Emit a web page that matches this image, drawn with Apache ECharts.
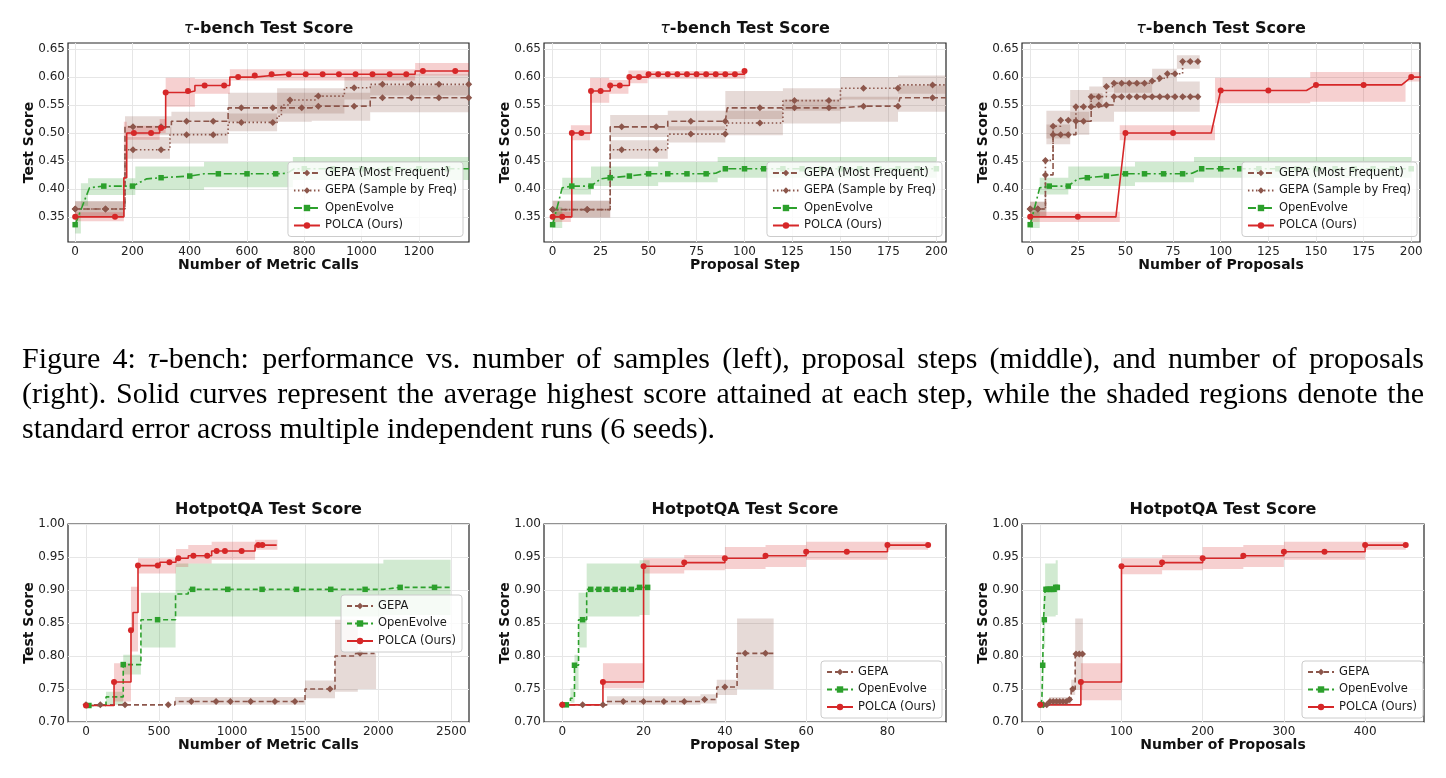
<!DOCTYPE html>
<html>
<head>
<meta charset="utf-8">
<title>tau-bench / HotpotQA test score</title>
<script src="https://cdn.jsdelivr.net/npm/echarts@6/dist/echarts.min.js"></script>
<style>
  html, body { margin: 0; padding: 0; background: #fff; }
  #chart { width: 1446px; height: 778px; }
</style>
</head>
<body>
<div id="chart"></div>
<script>
// ---------- tick labels ----------
const yTicksTau = [0.35, 0.40, 0.45, 0.50, 0.55, 0.60, 0.65];
const yTicksHotpot = [0.70, 0.75, 0.80, 0.85, 0.90, 0.95, 1.00];
const xTicksCalls = [0, 200, 400, 600, 800, 1000, 1200];
const xTicksSteps = [0, 25, 50, 75, 100, 125, 150, 175, 200];
const xTicksHqCalls = [0, 500, 1000, 1500, 2000, 2500];
const xTicksHqSteps = [0, 20, 40, 60, 80];
const xTicksHqProps = [0, 100, 200, 300, 400];

// ---------- tau-bench, number of metric calls ----------
const tbCallsMF = [[0,.364],[106,.364],[174,.511],[202,.511],[300,.511],[336,.521],[389,.521],[482,.521],[534,.545],[580,.545],[690,.545],[791,.545],[826,.548],[849,.548],[974,.548],[1030,.563],[1073,.563],[1174,.563],[1270,.563],[1374,.563]];
const tbCallsMFMarks = [0,106,202,300,389,482,580,690,791,849,974,1073,1174,1270,1374];
const tbCallsSF = [[0,.364],[106,.364],[174,.47],[202,.47],[300,.47],[331,.497],[389,.497],[482,.497],[534,.519],[580,.519],[690,.519],[705,.53],[720,.55],[750,.559],[838,.566],[849,.566],[940,.581],[974,.581],[1030,.587],[1073,.587],[1174,.587],[1270,.587],[1374,.587]];
const tbCallsSFMarks = [0,106,202,300,389,482,580,690,750,849,974,1073,1174,1270,1374];
const tbCallsOE = [[0,.336],[50,.402],[100,.405],[200,.405],[250,.418],[300,.42],[400,.423],[450,.427],[500,.427],[600,.427],[700,.427],[740,.428],[765,.436],[800,.436],[900,.436],[1000,.436],[1100,.436],[1200,.436],[1300,.436],[1375,.436]];
const tbCallsOEMarks = [0,100,200,300,400,500,600,700,800,900,1000,1100,1200,1300];
const tbCallsPOLCA = [[0,.35],[139,.35],[170,.42],[180,.50],[205,.50],[265,.50],[295,.509],[300,.509],[316,.5725],[394,.575],[418,.585],[452,.585],[520,.585],[540,.60],[569,.60],[627,.603],[686,.605],[746,.605],[805,.605],[864,.605],[921,.605],[979,.605],[1038,.605],[1098,.605],[1156,.605],[1187,.611],[1214,.611],[1327,.611],[1375,.611]];
const tbCallsPOLCAMarks = [0,139,205,265,300,316,394,452,520,569,627,686,746,805,864,921,979,1038,1098,1156,1214,1327];
// bands: [x, low, high], each row holds until the next x
const tbCallsMFBand = [[0,.35,.378],[174,.496,.53],[336,.511,.538],[534,.52,.572],[826,.522,.572],[1030,.537,.585],[1375,.537,.585]];
const tbCallsSFBand = [[0,.35,.378],[174,.454,.493],[331,.481,.511],[534,.503,.535],[705,.535,.58],[940,.56,.60],[1030,.567,.605],[1375,.567,.605]];
const tbCallsOEBand = [[0,.32,.355],[20,.37,.41],[45,.389,.419],[210,.398,.44],[450,.403,.448],[760,.416,.457],[1375,.416,.457]];
const tbCallsPOLCABand = [[0,.342,.358],[170,.42,.52],[180,.488,.513],[295,.50,.525],[316,.547,.599],[418,.57,.597],[540,.594,.614],[1187,.603,.625],[1375,.603,.625]];

// ---------- tau-bench, proposal step ----------
const tbStepMF = [[0,.363],[18,.363],[30,.511],[36,.511],[54,.511],[60,.521],[72,.521],[90,.521],[91,.545],[108,.545],[126,.545],[144,.545],[150,.548],[162,.548],[180,.548],[181,.563],[198,.563],[205,.563]];
const tbStepSF = [[0,.363],[18,.363],[30,.47],[36,.47],[54,.47],[60,.498],[72,.498],[90,.498],[91,.518],[108,.518],[120,.558],[126,.558],[144,.558],[150,.58],[162,.58],[180,.58],[181,.586],[198,.586],[205,.586]];
const tbStepGEPAMarks = [0,18,36,54,72,90,108,126,144,162,180,198];
const tbStepOE = [[0,.336],[5,.402],[10,.405],[20,.405],[25,.418],[30,.42],[40,.423],[50,.427],[60,.427],[70,.427],[80,.427],[85,.428],[90,.436],[100,.436],[110,.436],[120,.436],[130,.436],[140,.436],[150,.436],[160,.436],[170,.436],[180,.436],[190,.436],[200,.436]];
const tbStepOEMarks = [0,10,20,30,40,50,60,70,80,90,100,110,120,130,140,150,160,170,180,190,200];
const tbStepPOLCA = [[0,.35],[5,.35],[10,.50],[15,.50],[20,.575],[25,.575],[30,.585],[35,.585],[40,.60],[45,.60],[50,.605],[55,.605],[60,.605],[65,.605],[70,.605],[75,.605],[80,.605],[85,.605],[90,.605],[95,.605],[100,.611]];
const tbStepPOLCAMarks = [0,5,10,15,20,25,30,35,40,45,50,55,60,65,70,75,80,85,90,95,100];
const tbStepMFBand = [[0,.349,.379],[30,.493,.532],[60,.505,.54],[90,.525,.575],[120,.517,.56],[150,.52,.565],[180,.538,.585],[205,.538,.585]];
const tbStepSFBand = [[0,.349,.379],[30,.454,.487],[60,.483,.512],[90,.496,.54],[120,.54,.58],[150,.56,.60],[180,.57,.603],[205,.57,.603]];
const tbStepOEBand = [[0,.33,.367],[5,.39,.42],[20,.405,.44],[55,.412,.448],[86,.42,.457],[200,.42,.457]];
const tbStepPOLCABand = [[0,.341,.359],[9.5,.487,.514],[19.5,.554,.599],[29.5,.57,.595],[39.5,.589,.612],[49.5,.597,.611],[100.5,.597,.611]];

// ---------- tau-bench, number of proposals ----------
const tbPropMF = [[0,.364],[4,.364],[8,.425],[12,.497],[16,.497],[20,.497],[24,.521],[28,.521],[32,.547],[36,.55],[40,.55],[44,.565],[48,.565],[52,.565],[56,.565],[60,.565],[64,.565],[68,.565],[72,.565],[76,.565],[80,.565],[84,.565],[88,.565]];
const tbPropSF = [[0,.364],[4,.364],[8,.451],[12,.512],[16,.523],[20,.523],[24,.547],[28,.547],[32,.565],[36,.565],[40,.583],[44,.589],[48,.589],[52,.589],[56,.589],[60,.589],[64,.593],[68,.598],[72,.606],[76,.606],[80,.628],[84,.628],[88,.628]];
const tbPropGEPAMarks = [0,4,8,12,16,20,24,28,32,36,40,44,48,52,56,60,64,68,72,76,80,84,88];
const tbPropPOLCA = [[0,.35],[25,.35],[45,.35],[50,.50],[75,.50],[95,.50],[100,.576],[125,.576],[145,.576],[150,.586],[175,.586],[195,.586],[200,.60],[205,.60]];
const tbPropPOLCAMarks = [0,25,50,75,100,125,150,175,200];
const tbPropMFBand = [[0,.35,.377],[8.5,.48,.515],[21,.497,.538],[31,.52,.571],[44,.538,.592],[89,.538,.592]];
const tbPropSFBand = [[0,.35,.377],[8.5,.49,.54],[21,.52,.577],[31,.545,.583],[38,.572,.60],[64,.592,.615],[77,.615,.639],[89,.615,.639]];
const tbPropPOLCABand = [[0,.341,.359],[47,.487,.514],[97,.553,.599],[147,.556,.609],[197,.592,.609],[205,.592,.609]];

// ---------- HotpotQA, number of metric calls ----------
const hqCallsGEPA = [[0,.726],[98,.726],[267,.726],[563,.726],[609,.731],[721,.731],[890,.731],[988,.731],[1127,.731],[1293,.731],[1430,.731],[1499,.75],[1670,.75],[1704,.80],[1830,.80],[1845,.804],[1875,.804],[1975,.804]];
const hqCallsGEPAMarks = [0,98,267,563,721,890,988,1127,1293,1430,1670,1875];
const hqCallsOE = [[20,.725],[137,.738],[255,.787],[376,.855],[490,.855],[613,.894],[700,.901],[730,.901],[970,.901],[1205,.901],[1440,.901],[1675,.901],[1910,.901],[2035,.904],[2150,.904],[2385,.904],[2490,.904]];
const hqCallsOEMarks = [20,255,490,730,970,1205,1440,1675,1910,2150,2385];
const hqCallsPOLCA = [[0,.725],[192,.7605],[308,.839],[322,.866],[356,.937],[491,.937],[506,.942],[571,.942],[616,.948],[632,.948],[700,.952],[735,.952],[830,.952],[860,.959],[894,.959],[951,.959],[1065,.959],[1157,.968],[1179,.968],[1207,.968],[1305,.968]];
const hqCallsPOLCAMarks = [0,192,308,356,491,571,632,735,830,894,951,1065,1179,1207];
const hqCallsGEPABand = [[609,.726,.738],[1499,.736,.763],[1704,.746,.855],[1860,.75,.804],[1985,.75,.804]];
const hqCallsOEBand = [[137,.726,.746],[255,.772,.802],[376,.813,.896],[613,.86,.94],[2035,.862,.946],[2495,.862,.946]];
const hqCallsPOLCABand = [[192,.731,.789],[308,.807,.905],[356,.925,.948],[616,.935,.962],[700,.94,.968],[860,.946,.973],[1157,.961,.976],[1310,.961,.976]];

// ---------- HotpotQA, proposal step ----------
const hqStepGEPA = [[0,.726],[5,.726],[10,.726],[11,.731],[15,.731],[20,.731],[25,.731],[30,.731],[34,.734],[35,.734],[38,.753],[40,.753],[43,.804],[45,.804],[50,.804],[52,.804]];
const hqStepGEPAMarks = [0,5,10,15,20,25,30,35,40,45,50];
const hqStepOE = [[1,.726],[2,.736],[3,.786],[4,.855],[5,.855],[6,.901],[7,.901],[9,.901],[11,.901],[13,.901],[15,.901],[17,.901],[18,.904],[19,.904],[21,.904]];
const hqStepOEMarks = [1,3,5,7,9,11,13,15,17,19,21];
const hqStepPOLCA = [[0,.726],[10,.7605],[20,.936],[30,.9415],[40,.948],[50,.952],[60,.958],[70,.958],[80,.968],[90,.968]];
const hqStepPOLCAMarks = [0,10,20,30,40,50,60,70,80,90];
const hqStepGEPABand = [[11,.726,.739],[34,.728,.742],[38,.741,.764],[43,.75,.857],[52,.75,.857]];
const hqStepOEBand = [[2,.729,.751],[3,.749,.802],[4,.813,.896],[6,.86,.94],[19,.862,.945],[21.5,.862,.945]];
const hqStepPOLCABand = [[10,.751,.789],[20,.925,.948],[30,.93,.953],[40,.932,.965],[50,.935,.968],[60,.946,.973],[80,.961,.973],[90,.961,.973]];

// ---------- HotpotQA, number of proposals ----------
const hqPropGEPA = [[0,.726],[4,.726],[8,.726],[11,.731],[12,.731],[16,.731],[20,.731],[24,.731],[28,.731],[32,.731],[35,.734],[36,.734],[38,.75],[40,.75],[43,.803],[44,.803],[48,.803],[52,.803]];
const hqPropGEPAMarks = [0,4,8,12,16,20,24,28,32,36,40,44,48,52];
const hqPropPOLCA = [[0,.726],[50,.7605],[100,.936],[150,.9415],[200,.948],[250,.952],[300,.958],[350,.958],[400,.968],[450,.968]];
const hqPropPOLCAMarks = [0,50,100,150,200,250,300,350,400,450];
const hqPropGEPABand = [[11,.726,.738],[38,.741,.764],[43,.749,.857],[52.5,.749,.857]];
const hqPropPOLCABand = [[50,.733,.789],[100,.924,.948],[150,.93,.953],[200,.932,.965],[250,.935,.968],[300,.946,.973],[400,.961,.973],[450,.961,.973]];

const captionLines = [
  'Figure 4: τ-bench: performance vs. number of samples (left), proposal steps (middle), and number of proposals',
  '(right). Solid curves represent the average highest score attained at each step, while the shaded regions denote the',
  'standard error across multiple independent runs (6 seeds).'
];

// ---------- styles ----------
const BROWN = '#8c564b', GREEN = '#2ca02c', RED = '#d62728';
const DIAMOND = 'path://M0,-1L1,0L0,1L-1,0Z';
const FONT = 'DejaVu Sans';
const STY = {
  mf:    { name: 'GEPA (Most Frequent)',  color: BROWN, dash: [6, 3],       symbol: DIAMOND, size: 7 },
  sf:    { name: 'GEPA (Sample by Freq)', color: BROWN, dash: [1.5, 2.5],   symbol: DIAMOND, size: 7 },
  oeTop: { name: 'OpenEvolve',            color: GREEN, dash: [8, 3, 2, 3], symbol: 'rect',  size: 5.5 },
  gepa:  { name: 'GEPA',                  color: BROWN, dash: [5, 3],       symbol: DIAMOND, size: 7 },
  oeBot: { name: 'OpenEvolve ',           color: GREEN, dash: [5, 3],       symbol: 'rect',  size: 5.5 },
  polca: { name: 'POLCA (Ours)',          color: RED,   dash: 'solid',      symbol: 'circle', size: 6 }
};

const TAU_TITLE = '{t|τ}-bench Test Score';
const HQ_TITLE = 'HotpotQA Test Score';

// [style, line points, marker x's, band, step]
const panels = [
  { grid: { left: 68, top: 43, width: 401, height: 199 }, title: TAU_TITLE, xName: 'Number of Metric Calls',
    x: [-25, 1375], xTicks: xTicksCalls, y: [0.305, 0.661], yTicks: yTicksTau, legend: { right: 983, top: 162 },
    lines: [['mf', tbCallsMF, tbCallsMFMarks, tbCallsMFBand, true],
            ['sf', tbCallsSF, tbCallsSFMarks, tbCallsSFBand, true],
            ['oeTop', tbCallsOE, tbCallsOEMarks, tbCallsOEBand, false],
            ['polca', tbCallsPOLCA, tbCallsPOLCAMarks, tbCallsPOLCABand, true]] },
  { grid: { left: 544, top: 43, width: 402, height: 199 }, title: TAU_TITLE, xName: 'Proposal Step',
    x: [-4.5, 205], xTicks: xTicksSteps, y: [0.305, 0.661], yTicks: yTicksTau, legend: { right: 504, top: 162 },
    lines: [['mf', tbStepMF, tbStepGEPAMarks, tbStepMFBand, true],
            ['sf', tbStepSF, tbStepGEPAMarks, tbStepSFBand, true],
            ['oeTop', tbStepOE, tbStepOEMarks, tbStepOEBand, false],
            ['polca', tbStepPOLCA, tbStepPOLCAMarks, tbStepPOLCABand, true]] },
  { grid: { left: 1022, top: 43, width: 398, height: 199 }, title: TAU_TITLE, xName: 'Number of Proposals',
    x: [-4.3, 204.6], xTicks: xTicksSteps, y: [0.305, 0.661], yTicks: yTicksTau, legend: { right: 29, top: 162 },
    lines: [['mf', tbPropMF, tbPropGEPAMarks, tbPropMFBand, true],
            ['sf', tbPropSF, tbPropGEPAMarks, tbPropSFBand, true],
            ['oeTop', tbStepOE, tbStepOEMarks, tbStepOEBand, false],
            ['polca', tbPropPOLCA, tbPropPOLCAMarks, tbPropPOLCABand, false]] },
  { grid: { left: 68, top: 524, width: 401, height: 198 }, title: HQ_TITLE, xName: 'Number of Metric Calls',
    x: [-123, 2621], xTicks: xTicksHqCalls, y: [0.70, 1.00], yTicks: yTicksHotpot, legend: { right: 984, top: 595 },
    lines: [['gepa', hqCallsGEPA, hqCallsGEPAMarks, hqCallsGEPABand, true],
            ['oeBot', hqCallsOE, hqCallsOEMarks, hqCallsOEBand, true],
            ['polca', hqCallsPOLCA, hqCallsPOLCAMarks, hqCallsPOLCABand, true]] },
  { grid: { left: 544, top: 524, width: 402, height: 198 }, title: HQ_TITLE, xName: 'Proposal Step',
    x: [-4.5, 94.4], xTicks: xTicksHqSteps, y: [0.70, 1.00], yTicks: yTicksHotpot, legend: { right: 504, top: 661 },
    lines: [['gepa', hqStepGEPA, hqStepGEPAMarks, hqStepGEPABand, true],
            ['oeBot', hqStepOE, hqStepOEMarks, hqStepOEBand, true],
            ['polca', hqStepPOLCA, hqStepPOLCAMarks, hqStepPOLCABand, true]] },
  { grid: { left: 1022, top: 524, width: 402, height: 198 }, title: HQ_TITLE, xName: 'Number of Proposals',
    x: [-22.5, 472.5], xTicks: xTicksHqProps, y: [0.70, 1.00], yTicks: yTicksHotpot, legend: { right: 23, top: 661 },
    lines: [['gepa', hqPropGEPA, hqPropGEPAMarks, hqPropGEPABand, true],
            ['oeBot', hqStepOE, hqStepOEMarks, hqStepOEBand, true],
            ['polca', hqPropPOLCA, hqPropPOLCAMarks, hqPropPOLCABand, true]] }
];

const grids = [], xAxes = [], yAxes = [], legends = [], series = [], graphics = [];

// stepped polygon for a standard-error band, corners mapped through the axes
function bandRenderer(band, color) {
  return function (params, api) {
    if (params.dataIndex !== 0) return null;
    const upper = [], lower = [];
    for (let k = 0; k < band.length - 1; k++) {
      upper.push(api.coord([band[k][0], band[k][2]]), api.coord([band[k + 1][0], band[k][2]]));
      lower.push(api.coord([band[k][0], band[k][1]]), api.coord([band[k + 1][0], band[k][1]]));
    }
    return {
      type: 'polygon',
      shape: { points: upper.concat(lower.reverse()) },
      style: { fill: color, opacity: 0.22 },
      silent: true
    };
  };
}

panels.forEach((p, i) => {
  grids.push(Object.assign({ show: true, borderColor: '#262626', borderWidth: 1.2, backgroundColor: 'transparent',
    containLabel: false, outerBoundsMode: 'none' }, p.grid));

  xAxes.push({
    type: 'value', gridIndex: i, min: p.x[0], max: p.x[1],
    name: p.xName, nameLocation: 'middle', nameGap: 16, nameMoveOverlap: false,
    nameTextStyle: { fontFamily: FONT, fontSize: 14, fontWeight: 'bold', color: '#111' },
    axisLine: { show: false },
    axisTick: { show: false, customValues: p.xTicks },
    axisLabel: { customValues: p.xTicks, margin: 4, fontFamily: FONT, fontSize: 12, color: '#222',
      formatter: v => String(v) },
    splitLine: { show: true, lineStyle: { color: '#e6e6e6', width: 1 } }
  });
  yAxes.push({
    type: 'value', gridIndex: i, min: p.y[0], max: p.y[1],
    name: 'Test Score', nameLocation: 'middle', nameGap: 32, nameMoveOverlap: false,
    nameTextStyle: { fontFamily: FONT, fontSize: 14, fontWeight: 'bold', color: '#111' },
    axisLine: { show: false },
    axisTick: { show: false, customValues: p.yTicks },
    axisLabel: { customValues: p.yTicks, margin: 3, fontFamily: FONT, fontSize: 12, color: '#222',
      formatter: v => v.toFixed(2) },
    splitLine: { show: true, lineStyle: { color: '#e6e6e6', width: 1 } }
  });

  // shaded standard-error bands, drawn first
  p.lines.forEach(([key, , , band]) => {
    series.push({
      type: 'custom', xAxisIndex: i, yAxisIndex: i, z: 1, silent: true, clip: true,
      data: band, encode: { x: 0, y: [1, 2] },
      renderItem: bandRenderer(band, STY[key].color)
    });
  });

  // mean curves
  p.lines.forEach(([key, pts, marks, , step]) => {
    const st = STY[key];
    series.push({
      type: 'line', name: st.name, xAxisIndex: i, yAxisIndex: i, z: 3,
      step: step ? 'end' : false, data: pts, silent: true,
      symbol: st.symbol, symbolSize: v => (marks.indexOf(v[0]) >= 0 ? st.size : 0),
      lineStyle: { color: st.color, width: 1.6, type: st.dash },
      itemStyle: { color: st.color },
      emphasis: { disabled: true }
    });
  });

  legends.push({
    orient: 'vertical', right: p.legend.right, top: p.legend.top, selectedMode: false,
    data: p.lines.map(l => STY[l[0]].name),
    itemWidth: 26, itemHeight: 8, itemGap: 3.5, padding: [4, 6, 4, 5],
    backgroundColor: 'rgba(255,255,255,0.8)', borderColor: '#cccccc', borderWidth: 1, borderRadius: 3,
    textStyle: { fontFamily: FONT, fontSize: 11.5, color: '#1a1a1a', lineHeight: 14 }
  });

  graphics.push({
    type: 'text', silent: true,
    x: p.grid.left + p.grid.width / 2, y: p.grid.top - 14,
    style: {
      text: p.title, fontFamily: FONT, fontSize: 16, fontWeight: 'bold', fill: '#111',
      align: 'center', verticalAlign: 'middle',
      rich: { t: { fontFamily: FONT, fontSize: 16, fontStyle: 'italic', fontWeight: 'normal', fill: '#111' } }
    }
  });
});

// ---------- caption (justified like the LaTeX original) ----------
const CAP_LEFT = 22, CAP_RIGHT = 1424, CAP_FONT = 'Liberation Serif';
const CAP_Y = [360, 395, 430];
const measureCtx = document.createElement('canvas').getContext('2d');
measureCtx.font = '100px "' + CAP_FONT + '"';
const natural = Math.max(measureCtx.measureText(captionLines[0]).width, measureCtx.measureText(captionLines[1]).width);
const capSize = Math.min(30, Math.floor(100 * (CAP_RIGHT - CAP_LEFT) * 0.985 / natural * 2) / 2);
measureCtx.font = capSize + 'px "' + CAP_FONT + '"';

captionLines.forEach((line, li) => {
  const words = line.split(' ');
  const widths = words.map(w => measureCtx.measureText(w).width);
  const total = widths.reduce((a, b) => a + b, 0);
  const justify = li < captionLines.length - 1;
  const gap = justify ? (CAP_RIGHT - CAP_LEFT - total) / (words.length - 1) : measureCtx.measureText(' ').width;
  let x = CAP_LEFT;
  words.forEach((w, k) => {
    graphics.push({
      type: 'text', silent: true, x: x, y: CAP_Y[li],
      style: {
        text: w.replace('τ', '{i|τ}'), fontFamily: CAP_FONT, fontSize: capSize, fill: '#000',
        align: 'left', verticalAlign: 'middle',
        rich: { i: { fontFamily: CAP_FONT, fontSize: capSize, fontStyle: 'italic', fill: '#000' } }
      }
    });
    x += widths[k] + gap;
  });
});

const chart = echarts.init(document.getElementById('chart'), null, { renderer: 'canvas' });
chart.setOption({
  animation: false,
  backgroundColor: '#ffffff',
  textStyle: { fontFamily: FONT },
  grid: grids,
  xAxis: xAxes,
  yAxis: yAxes,
  legend: legends,
  series: series,
  graphic: graphics
});
</script>
</body>
</html>
